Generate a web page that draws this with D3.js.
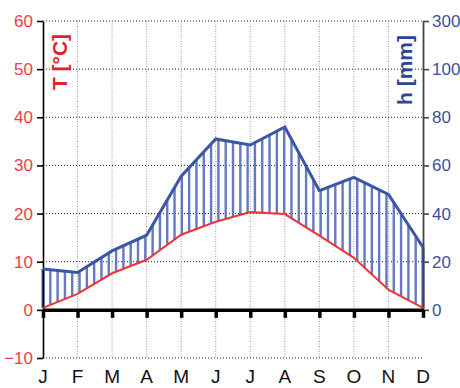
<!DOCTYPE html>
<html>
<head>
<meta charset="utf-8">
<script src="https://cdn.jsdelivr.net/npm/d3@7"></script>
<style>
  body { margin: 0; background: #fff; }
  svg { display: block; font-family: "Liberation Sans", Arial, sans-serif; }
</style>
</head>
<body>
<div id="chart"></div>
<script>
var months = ["J", "F", "M", "A", "M", "J", "J", "A", "S", "O", "N", "D"];
var temperature = [0.4, 3.3, 7.6, 10.4, 15.6, 18.3, 20.3, 19.9, 15.4, 10.8, 4.2, 0.4];
var precipitation = [17, 15.5, 24.5, 31, 55.5, 71, 68.5, 76, 49.5, 55, 48, 26];
var tempTicks = [-10, 0, 10, 20, 30, 40, 50, 60];
var precTicks = [0, 20, 40, 60, 80, 100, 300];

var width = 460,
    height = 388;
var plotLeft = 43, plotRight = 423, plotTop = 21, plotBottom = 358;

var svg = d3.select("#chart").append("svg")
    .attr("width", width)
    .attr("height", height);

var x = d3.scaleLinear().domain([0, 11]).range([plotLeft, plotRight]);
var yT = d3.scaleLinear().domain([-10, 60]).range([plotBottom, plotTop]);
// Walter-Lieth: 10 C = 20 mm up to 100 mm, compressed above
var yP = d3.scaleLinear().domain([0, 100, 300]).range([yT(0), yT(50), yT(60)]);

// grid
svg.append("g").selectAll("line")
    .data(tempTicks.filter(function(d) { return d !== 0; }))
    .enter().append("line")
    .attr("x1", plotLeft).attr("x2", plotRight)
    .attr("y1", function(d) { return yT(d); })
    .attr("y2", function(d) { return yT(d); })
    .attr("stroke", "#222")
    .attr("stroke-width", 1)
    .attr("stroke-dasharray", "1,2");

svg.append("g").selectAll("line")
    .data(d3.range(1, 11))
    .enter().append("line")
    .attr("x1", function(d) { return x(d); })
    .attr("x2", function(d) { return x(d); })
    .attr("y1", plotTop).attr("y2", plotBottom)
    .attr("stroke", "#999")
    .attr("stroke-width", 1)
    .attr("stroke-dasharray", "1,1.5");

// hatching between temperature and precipitation
function interp(arr, t) {
    var i = Math.min(Math.floor(t), 10);
    var f = t - i;
    return arr[i] + (arr[i + 1] - arr[i]) * f;
}
var nHatch = 52;
var hatch = d3.range(1, nHatch).map(function(k) {
    var t = 11 * k / nHatch;
    return { t: t, temp: interp(temperature, t), prec: interp(precipitation, t) };
});
svg.append("g").selectAll("line")
    .data(hatch)
    .enter().append("line")
    .attr("x1", function(d) { return x(d.t); })
    .attr("x2", function(d) { return x(d.t); })
    .attr("y1", function(d) { return yT(d.temp); })
    .attr("y2", function(d) { return yP(d.prec); })
    .attr("stroke", "#6479c0")
    .attr("stroke-width", 2.4);

// closing edges at january and december
svg.append("g").selectAll("line")
    .data([0, 11])
    .enter().append("line")
    .attr("x1", function(d) { return x(d); })
    .attr("x2", function(d) { return x(d); })
    .attr("y1", function(d) { return yT(temperature[d]); })
    .attr("y2", function(d) { return yP(precipitation[d]); })
    .attr("stroke", "#3b56a5")
    .attr("stroke-width", 3);

// axes
var axisL = svg.append("g")
    .attr("transform", "translate(" + plotLeft + ",0)")
    .call(d3.axisLeft(yT).tickValues(tempTicks).tickSize(6).tickSizeOuter(0).tickPadding(4));
axisL.select(".domain").attr("stroke", "#000").attr("stroke-width", 1.6);
axisL.selectAll(".tick line").attr("stroke", "#000").attr("stroke-width", 1.6);
axisL.selectAll(".tick text")
    .attr("fill", "#ef3b4a")
    .attr("font-size", 17)
    .attr("font-family", "Liberation Sans, Arial, sans-serif");

var axisR = svg.append("g")
    .attr("transform", "translate(" + plotRight + ",0)")
    .call(d3.axisRight(yP).tickValues(precTicks).tickSize(6).tickSizeOuter(0).tickPadding(3));
axisR.select(".domain").attr("stroke", "#444").attr("stroke-width", 1.8);
axisR.selectAll(".tick line").attr("stroke", "#444").attr("stroke-width", 1.6);
axisR.selectAll(".tick text")
    .attr("fill", "#3d4f9f")
    .attr("font-size", 17)
    .attr("font-family", "Liberation Sans, Arial, sans-serif");

// lines
var line = d3.line()
    .x(function(d, i) { return x(i); });

svg.append("path")
    .datum(precipitation)
    .attr("fill", "none")
    .attr("stroke", "#3b56a5")
    .attr("stroke-width", 3)
    .attr("stroke-linejoin", "miter")
    .attr("d", line.y(function(d) { return yP(d); }));

svg.append("path")
    .datum(temperature)
    .attr("fill", "none")
    .attr("stroke", "#ee3535")
    .attr("stroke-width", 2)
    .attr("d", line.y(function(d) { return yT(d); }));

// zero line with month ticks
var axisB = svg.append("g")
    .attr("transform", "translate(0," + yT(0) + ")")
    .call(d3.axisBottom(x).tickValues(d3.range(12)).tickSize(8).tickSizeOuter(0).tickFormat(""));
axisB.select(".domain").attr("stroke", "#000").attr("stroke-width", 3.5);
axisB.selectAll(".tick line").attr("stroke", "#000").attr("stroke-width", 3.5);

// month labels
svg.append("g").selectAll("text")
    .data(months)
    .enter().append("text")
    .attr("x", function(d, i) { return x(i); })
    .attr("y", 383)
    .attr("text-anchor", "middle")
    .attr("font-size", 19)
    .attr("fill", "#111")
    .text(function(d) { return d; });

// axis titles
svg.append("text")
    .attr("transform", "translate(67,62) rotate(-90)")
    .attr("text-anchor", "middle")
    .attr("font-size", 21)
    .attr("font-weight", "bold")
    .attr("fill", "#e8202e")
    .text("T [°C]");

svg.append("text")
    .attr("transform", "translate(412,70) rotate(-90)")
    .attr("text-anchor", "middle")
    .attr("font-size", 21)
    .attr("font-weight", "bold")
    .attr("fill", "#2d4595")
    .text("h [mm]");
</script>
</body>
</html>
